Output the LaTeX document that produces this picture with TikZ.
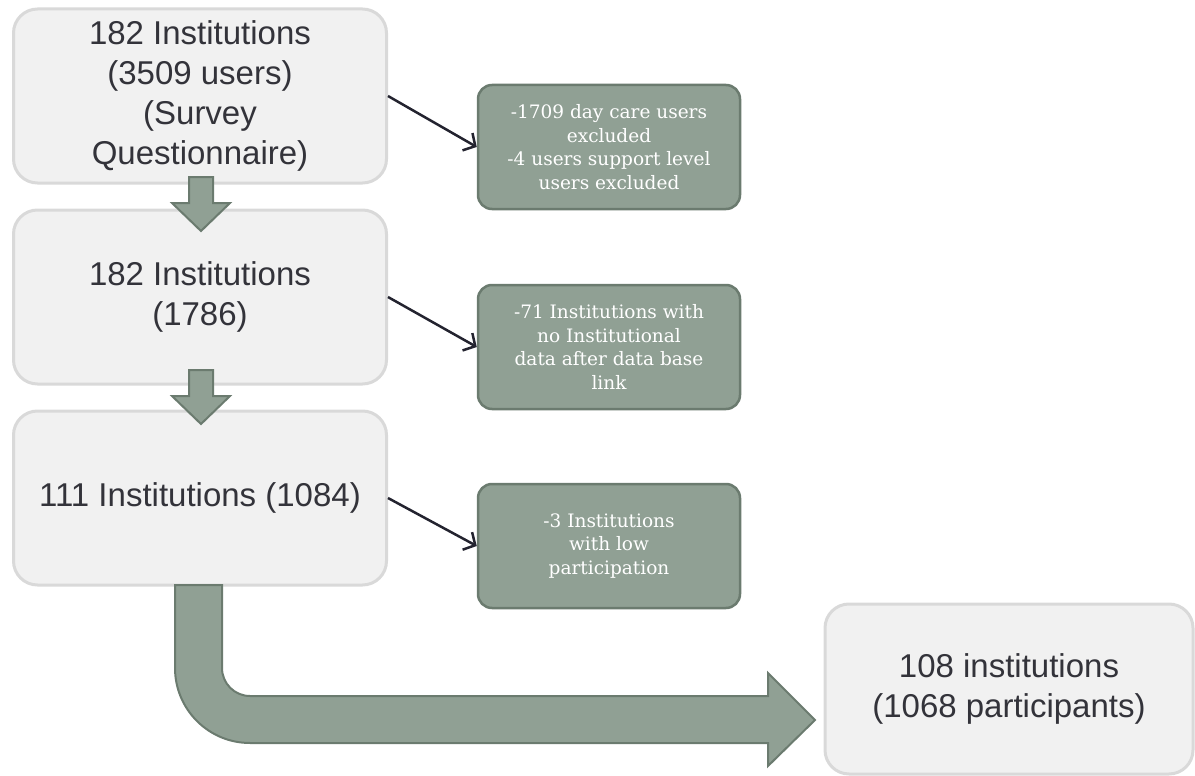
\documentclass[tikz,border=0pt]{standalone}
\usepackage{fontspec}
\usepackage{xcolor}
\usetikzlibrary{arrows.meta,positioning}
\newfontfamily\boxfont{Liberation Sans}
\newfontfamily\notefont{DejaVu Serif}
\definecolor{boxfill}{HTML}{F1F1F1}
\definecolor{boxline}{HTML}{D9D9D9}
\definecolor{notefill}{HTML}{90A094}
\definecolor{noteline}{HTML}{6B7B6F}
\definecolor{textdark}{HTML}{33333A}
\definecolor{linkdark}{HTML}{23232F}

\begin{document}
\begin{tikzpicture}[x=1pt,y=-1pt,
  stage/.style={draw=boxline, fill=boxfill, line width=3pt, rounded corners=24pt,
    minimum width=373pt, minimum height=174pt, inner sep=0pt, align=center,
    text=textdark, font={\boxfont\fontsize{33}{40}\selectfont}},
  note/.style={draw=noteline, fill=notefill, line width=2.5pt, rounded corners=14pt,
    minimum width=262pt, minimum height=124pt, inner sep=0pt, align=center,
    text=white, font={\notefont\fontsize{18.5}{23.5}\selectfont}},
  link/.style={draw=linkdark, line width=2.5pt, -{Straight Barb[length=9pt,width=20pt]}},
  fat/.style={draw=noteline, fill=notefill, line width=2pt, line join=miter}]
\useasboundingbox (0,0) rectangle (1195,776);

% nodes
\node[stage] (b1) at (200,96) {182 Institutions\\(3509 users)\\(Survey\\Questionnaire)};
\node[stage, below=24pt of b1] (b2) {182 Institutions\\(1786)};
\node[stage, below=24pt of b2] (b3) {111 Institutions (1084)};
\node[stage, minimum width=368pt, minimum height=170pt] (b4) at (1009,689) {108 institutions\\(1068 participants)};

\node[note] (g1) at (609,147) {-1709 day care users\\excluded\\-4 users support level\\users excluded};
\node[note] (g2) at (609,347) {-71 Institutions with\\no Institutional\\data after data base\\link};
\node[note] (g3) at (609,546) {-3 Institutions\\with low\\participation};

% links
\draw[link] (b1.east) -- (g1.west);
\draw[link] (b2.east) -- (g2.west);
\draw[link] (b3.east) -- (g3.west);

% down arrows
\foreach \y in {177,370}
  \draw[fat] (189,\y) -- (213,\y) -- (213,\y+26) -- (230,\y+26) -- (201,\y+54)
    -- (172,\y+26) -- (189,\y+26) -- cycle;

% bent arrow
\draw[fat] (222,585) -- (222,668) arc[start angle=180, end angle=270, radius=28pt]
  -- (768,696) -- (768,673) -- (815,720) -- (768,766) -- (768,743)
  -- (250,743) arc[start angle=270, end angle=180, radius=75pt]
  -- (175,585) -- cycle;

\end{tikzpicture}
\end{document}
